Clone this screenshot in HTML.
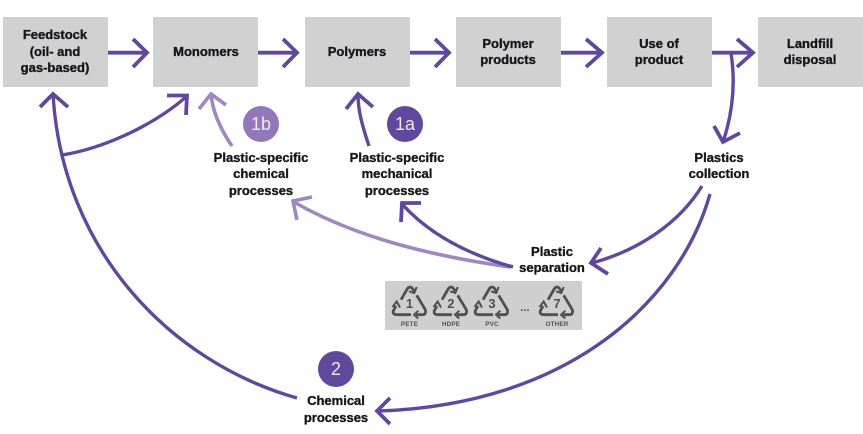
<!DOCTYPE html>
<html>
<head>
<meta charset="utf-8">
<style>
html,body{margin:0;padding:0;background:#fff}
svg{display:block}
.t{font-family:"Liberation Sans",sans-serif;font-weight:700;font-size:13px;fill:#17171b;text-anchor:middle;stroke:#17171b;stroke-width:.35px}
.n{font-family:"Liberation Sans",sans-serif;font-size:18px;fill:#efe9f6;text-anchor:middle}
.l{fill:none;stroke:#60489d;stroke-width:3.8}
.c{fill:none;stroke:#60489d;stroke-width:3.4}
.p{fill:none;stroke:#9f87c2;stroke-width:3.6}
.r{fill:none;stroke:#505052;stroke-width:2.8;stroke-linejoin:round}
.a{fill:none;stroke:#505052;stroke-width:2}
.rn{font-family:"Liberation Sans",sans-serif;font-weight:700;font-size:13px;fill:#505052;text-anchor:middle}
.rl{font-family:"Liberation Sans",sans-serif;font-weight:700;font-size:6.3px;letter-spacing:.2px;fill:#505052;text-anchor:middle}
</style>
</head>
<body>
<svg width="863" height="434" viewBox="0 0 863 434" xmlns="http://www.w3.org/2000/svg">
<g fill="#d1d1d1">
<rect x="3" y="17" width="105" height="70"/>
<rect x="153" y="17" width="105" height="70"/>
<rect x="305" y="17" width="105" height="70"/>
<rect x="456" y="17" width="105" height="70"/>
<rect x="607" y="17" width="105" height="70"/>
<rect x="758" y="17" width="105" height="70"/>
</g>
<rect x="385" y="281" width="197" height="49" fill="#cfcfcf"/>

<g class="p">
<path d="M232 146C221 130 213 113 211 95M199 109L211 94L226 105"/>
<path d="M510 267C440 257 360 240 294 202M297 220L293 201L312 197"/>
</g>
<g class="l">
<path d="M108 52.700H146M133 39L147 52.700L133 67"/>
<path d="M258 52.700H297M283 39L297 52.700L283 67"/>
<path d="M410 52.700H448M435 39L449 52.700L435 67"/>
<path d="M561 52.700H601M586 39L602 52.700L586 67"/>
<path d="M712 52.700H752M737 39L753 52.700L737 67"/>
<path d="M714 126L723 142L740 133"/>
<path d="M601 248L591 263L608 274"/>
<path d="M390 398L377 411L390 424"/>
<path d="M40 107L53 94L68 107"/>
<path d="M167 95.500H187L186 115"/>
<path d="M346 109L358 94L373 107"/>
<path d="M401 222L402 203H421"/>
</g>
<g class="c">
<path d="M731 53C736 85 732 115 723 142"/>
<path d="M702 186C680 222 640 250 592 263"/>
<path d="M710 194C680 300 570 405 378 411"/>
<path d="M297 398C170 362 62 250 53 94"/>
<path d="M62 155C100 149 150 128 186 97"/>
<path d="M369 146C362 125 358 110 358 95"/>
<path d="M513 267C470 255 430 235 402 204"/>
</g>

<circle cx="261" cy="124" r="18" fill="#9378b9"/>
<text class="n" x="261" y="130">1b</text>
<circle cx="405" cy="124" r="18" fill="#60489d"/>
<text class="n" x="405" y="130">1a</text>
<circle cx="336" cy="369" r="18" fill="#60489d"/>
<text class="n" x="336" y="375">2</text>

<text class="t" x="55" y="39">Feedstock</text>
<text class="t" x="55" y="56">(oil- and</text>
<text class="t" x="55" y="72">gas-based)</text>
<text class="t" x="206" y="56">Monomers</text>
<text class="t" x="357" y="56">Polymers</text>
<text class="t" x="508" y="48">Polymer</text>
<text class="t" x="508" y="64">products</text>
<text class="t" x="659" y="48">Use of</text>
<text class="t" x="659" y="64">product</text>
<text class="t" x="810" y="48">Landfill</text>
<text class="t" x="810" y="64">disposal</text>
<text class="t" x="261" y="162">Plastic-specific</text>
<text class="t" x="261" y="178">chemical</text>
<text class="t" x="261" y="195">processes</text>
<text class="t" x="397" y="162">Plastic-specific</text>
<text class="t" x="397" y="178">mechanical</text>
<text class="t" x="397" y="195">processes</text>
<text class="t" x="719" y="162">Plastics</text>
<text class="t" x="719" y="178">collection</text>
<text class="t" x="552" y="256">Plastic</text>
<text class="t" x="552" y="272">separation</text>
<text class="t" x="336" y="405">Chemical</text>
<text class="t" x="336" y="422">processes</text>

<g transform="translate(410,301)">
<path class="r" d="M-9 -1.300L-2.500 -12.500Q0 -15.500 2.500 -12.500L4.300 -9.500"/>
<path class="a" d="M6.700 -14L4.300 -8L-1 -9.700"/>
<path class="r" d="M6.700 -5.700L15.300 8.700Q16.500 13.700 12.500 13.700H6"/>
<path class="a" d="M8.300 9.700L4 13.700L8.300 17.500"/>
<path class="r" d="M-14 5L-16.800 10Q-17.500 13.700 -13 13.700H1"/>
<path class="a" d="M-17.500 6L-13.300 .5L-10 6.500"/>
</g>
<text class="rn" x="409.500" y="308">1</text><text class="rl" x="409.500" y="326">PETE</text>
<g transform="translate(451,301)">
<path class="r" d="M-9 -1.300L-2.500 -12.500Q0 -15.500 2.500 -12.500L4.300 -9.500"/>
<path class="a" d="M6.700 -14L4.300 -8L-1 -9.700"/>
<path class="r" d="M6.700 -5.700L15.300 8.700Q16.500 13.700 12.500 13.700H6"/>
<path class="a" d="M8.300 9.700L4 13.700L8.300 17.500"/>
<path class="r" d="M-14 5L-16.800 10Q-17.500 13.700 -13 13.700H1"/>
<path class="a" d="M-17.500 6L-13.300 .5L-10 6.500"/>
</g>
<text class="rn" x="451" y="308">2</text><text class="rl" x="451" y="326">HDPE</text>
<g transform="translate(492,301)">
<path class="r" d="M-9 -1.300L-2.500 -12.500Q0 -15.500 2.500 -12.500L4.300 -9.500"/>
<path class="a" d="M6.700 -14L4.300 -8L-1 -9.700"/>
<path class="r" d="M6.700 -5.700L15.300 8.700Q16.500 13.700 12.500 13.700H6"/>
<path class="a" d="M8.300 9.700L4 13.700L8.300 17.500"/>
<path class="r" d="M-14 5L-16.800 10Q-17.500 13.700 -13 13.700H1"/>
<path class="a" d="M-17.500 6L-13.300 .5L-10 6.500"/>
</g>
<text class="rn" x="492" y="308">3</text><text class="rl" x="492" y="326">PVC</text>
<text x="525" y="311" font-family="Liberation Sans, sans-serif" font-weight="700" font-size="11" fill="#505052" text-anchor="middle">...</text>
<g transform="translate(557,301)">
<path class="r" d="M-9 -1.300L-2.500 -12.500Q0 -15.500 2.500 -12.500L4.300 -9.500"/>
<path class="a" d="M6.700 -14L4.300 -8L-1 -9.700"/>
<path class="r" d="M6.700 -5.700L15.300 8.700Q16.500 13.700 12.500 13.700H6"/>
<path class="a" d="M8.300 9.700L4 13.700L8.300 17.500"/>
<path class="r" d="M-14 5L-16.800 10Q-17.500 13.700 -13 13.700H1"/>
<path class="a" d="M-17.500 6L-13.300 .5L-10 6.500"/>
</g>
<text class="rn" x="557" y="308">7</text><text class="rl" x="557" y="326">OTHER</text>
</svg>
</body>
</html>
